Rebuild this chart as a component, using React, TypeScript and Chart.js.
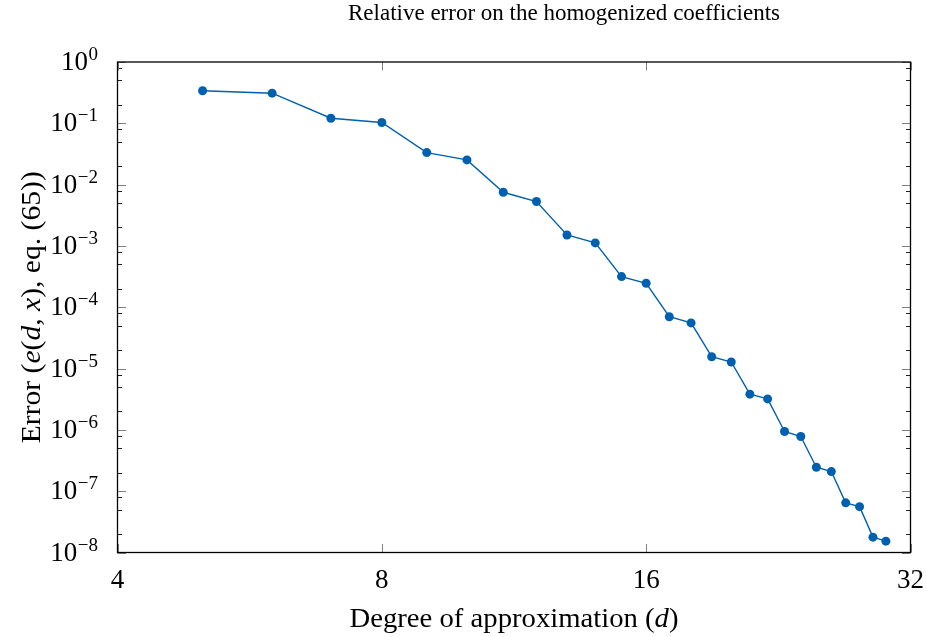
import React, { useEffect, useRef } from "react";
import { Chart, registerables } from "chart.js";

Chart.register(...registerables);

// ---- data ----
const degrees = [5, 6, 7, 8, 9, 10, 11, 12, 13, 14, 15, 16, 17, 18, 19, 20, 21, 22, 23, 24, 25, 26, 27, 28, 29, 30];
const errors = [
  0.34, 0.31, 0.121, 0.103, 0.0333, 0.0253, 0.0075, 0.0053, 0.00151, 0.00112,
  3.16e-4, 2.46e-4, 7.0e-5, 5.55e-5, 1.56e-5, 1.28e-5, 3.82e-6, 3.2e-6, 9.4e-7, 7.8e-7,
  2.46e-7, 2.09e-7, 6.45e-8, 5.6e-8, 1.78e-8, 1.53e-8,
];
const xTickValues = [4, 8, 16, 32];
const xTickLabels = ["4", "8", "16", "32"];
const yTickExponents = [0, -1, -2, -3, -4, -5, -6, -7, -8];
const yMinorMultipliers = [2, 5, 8];
const titleText = "Relative error on the homogenized coefficients";
const xTitleSegments = [{ t: "Degree of approximation (" }, { t: "d", i: true }, { t: ")" }];
const yTitleSegments = [
  { t: "Error (" }, { t: "e", i: true }, { t: "(" }, { t: "d", i: true }, { t: ", " },
  { t: "x", i: true }, { t: "), eq. (65))" },
];

const FAMILY = "'Liberation Serif', 'DejaVu Serif', serif";
const LINE_COLOR = "rgb(0, 96, 176)";
const TEXT_COLOR = "#000";

type Seg = { t: string; i?: boolean };

function drawRich(ctx: CanvasRenderingContext2D, segs: Seg[], size: number, cx: number, baseline: number, targetWidth?: number) {
  const fontOf = (s: Seg) => `${s.i ? "italic " : ""}${size}px ${FAMILY}`;
  let w = 0;
  const widths: number[] = [];
  for (const s of segs) {
    ctx.font = fontOf(s);
    const m = ctx.measureText(s.t).width;
    widths.push(m);
    w += m;
  }
  const sx = targetWidth ? targetWidth / w : 1;
  ctx.save();
  ctx.translate(cx, baseline);
  ctx.scale(sx, 1);
  ctx.textAlign = "left";
  ctx.textBaseline = "alphabetic";
  ctx.fillStyle = TEXT_COLOR;
  let x = -w / 2;
  segs.forEach((s, k) => {
    ctx.font = fontOf(s);
    ctx.fillText(s.t, x, 0);
    x += widths[k];
  });
  ctx.restore();
}

const texAxes = {
  id: "texAxes",
  afterDatasetsDraw(chart: any) {
    const { ctx, chartArea: a, scales } = chart;
    const xs = scales.x;
    const ys = scales.y;
    ctx.save();

    // minor y ticks
    ctx.lineWidth = 1;
    ctx.strokeStyle = "#222";
    for (let e = -8; e < 0; e++) {
      for (const m of yMinorMultipliers) {
        const py = Math.round(ys.getPixelForValue(m * Math.pow(10, e))) + 0.5;
        ctx.beginPath();
        ctx.moveTo(a.left, py);
        ctx.lineTo(a.left + 4.5, py);
        ctx.moveTo(a.right - 4.5, py);
        ctx.lineTo(a.right, py);
        ctx.stroke();
      }
    }
    // major y ticks
    ctx.strokeStyle = "#808080";
    for (const e of yTickExponents) {
      const py = Math.round(ys.getPixelForValue(Math.pow(10, e))) + 0.5;
      ctx.beginPath();
      ctx.moveTo(a.left, py);
      ctx.lineTo(a.left + 8.5, py);
      ctx.moveTo(a.right - 8.5, py);
      ctx.lineTo(a.right, py);
      ctx.stroke();
    }
    // major x ticks
    for (const v of xTickValues) {
      const px = Math.round(xs.getPixelForValue(v)) + 0.5;
      ctx.beginPath();
      ctx.moveTo(px, a.bottom);
      ctx.lineTo(px, a.bottom - 8.5);
      ctx.moveTo(px, a.top);
      ctx.lineTo(px, a.top + 8.5);
      ctx.stroke();
    }
    // frame
    ctx.strokeStyle = "#000";
    ctx.lineWidth = 1.3;
    ctx.strokeRect(a.left, a.top, a.right - a.left, a.bottom - a.top);

    // y tick labels 10^e
    ctx.fillStyle = TEXT_COLOR;
    ctx.textAlign = "left";
    ctx.textBaseline = "alphabetic";
    const rightEdge = 98;
    for (const e of yTickExponents) {
      const py = ys.getPixelForValue(Math.pow(10, e));
      const expStr = e === 0 ? "0" : "\u2212" + Math.abs(e);
      ctx.font = `27px ${FAMILY}`;
      const w1 = ctx.measureText("10").width;
      ctx.font = `19px ${FAMILY}`;
      const w2 = ctx.measureText(expStr).width;
      ctx.font = `27px ${FAMILY}`;
      ctx.fillText("10", rightEdge - w2 - w1 - 0.5, py + 8);
      ctx.font = `19px ${FAMILY}`;
      ctx.fillText(expStr, rightEdge - w2, py - 2);
    }
    // x tick labels
    ctx.font = `27px ${FAMILY}`;
    ctx.textAlign = "center";
    xTickValues.forEach((v, k) => {
      const px = xs.getPixelForValue(v);
      ctx.fillText(xTickLabels[k], px, 588);
    });

    // titles
    drawRich(ctx, [{ t: titleText }], 24, 564, 20, 432);
    drawRich(ctx, xTitleSegments, 27, (a.left + a.right) / 2, 627, 329);
    ctx.save();
    ctx.translate(40, (a.top + a.bottom) / 2);
    ctx.rotate(-Math.PI / 2);
    drawRich(ctx, yTitleSegments, 27, 0, 0, 272);
    ctx.restore();

    ctx.restore();
  },
};

export default function App() {
  const ref = useRef<HTMLCanvasElement | null>(null);
  useEffect(() => {
    if (!ref.current) return;
    const chart = new Chart(ref.current, {
      type: "line",
      data: {
        datasets: [
          {
            data: degrees.map((d, k) => ({ x: d, y: errors[k] })),
            borderColor: LINE_COLOR,
            backgroundColor: LINE_COLOR,
            borderWidth: 1.4,
            pointRadius: 4.5,
            pointBorderWidth: 0,
            pointBackgroundColor: LINE_COLOR,
            tension: 0,
          },
        ],
      },
      options: {
        animation: false,
        responsive: true,
        maintainAspectRatio: false,
        layout: { padding: { left: 117.5, right: 16.5, top: 62, bottom: 84.5 } },
        plugins: { legend: { display: false }, title: { display: false }, tooltip: { enabled: false } },
        scales: {
          x: { type: "logarithmic", min: 4, max: 32, display: false },
          y: { type: "logarithmic", min: 1e-8, max: 1, display: false },
        },
      },
      plugins: [texAxes],
    });
    return () => chart.destroy();
  }, []);
  return (
    <div style={{ position: "absolute", left: 0, top: 0, width: 927, height: 637 }}>
      <canvas ref={ref} />
    </div>
  );
}
